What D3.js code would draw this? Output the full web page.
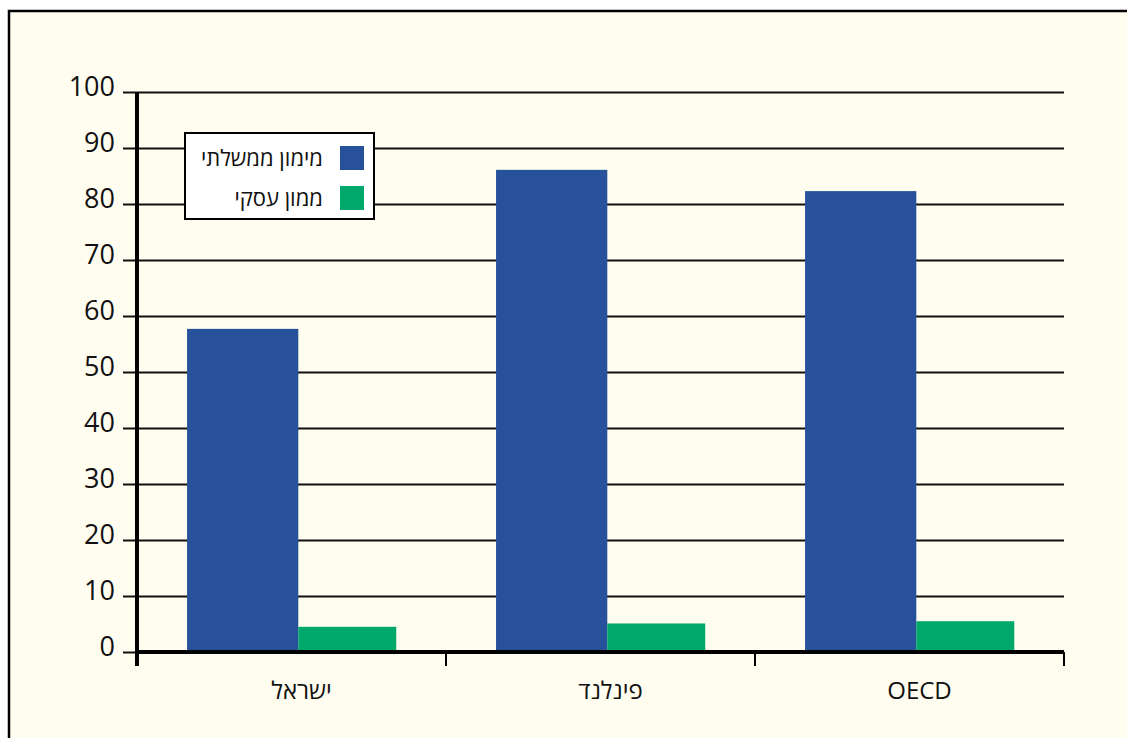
<!DOCTYPE html>
<html lang="he">
<head>
<meta charset="UTF-8">
<title>מימון ממשלתי ועסקי</title>
<script src="https://d3js.org/d3.v7.min.js"></script>
<style>
  body { margin: 0; background: #ffffff; font-family: 'Open Sans', 'Noto Sans', sans-serif; }
</style>
</head>
<body>
<div id="chart"></div>
<script>
// data
var categories = ["ישראל", "פינלנד", "OECD"];
var seriesNames = ["מימון ממשלתי", "ממון עסקי"];
var governmentValues = [57.7, 86.1, 82.3];
var businessValues = [4.5, 5.1, 5.5];
var yTicks = [0, 10, 20, 30, 40, 50, 60, 70, 80, 90, 100];

var colors = ["#27519b", "#00a86b"];

var width = 1127, height = 738;
var margin = {top: 92, left: 137, right: 63, bottom: 86};

var svg = d3.select("#chart").append("svg")
    .attr("width", width)
    .attr("height", height);

// cream panel with frame
svg.append("rect")
    .attr("x", 9).attr("y", 11)
    .attr("width", width).attr("height", height)
    .attr("fill", "#fffdef")
    .attr("stroke", "#000")
    .attr("stroke-width", 2.5);

var x = d3.scaleBand()
    .domain(categories)
    .range([margin.left, width - margin.right]);

var y = d3.scaleLinear()
    .domain([0, 100])
    .range([height - margin.bottom, margin.top]);

// gridlines + y ticks
var grid = svg.append("g")
    .attr("transform", "translate(" + margin.left + ",0)")
    .call(d3.axisLeft(y).tickValues(yTicks)
        .tickSize(-(width - margin.right - margin.left))
        .tickPadding(22));
grid.select(".domain").remove();
grid.selectAll(".tick line")
    .attr("x1", -14)
    .attr("stroke", "#111")
    .attr("stroke-width", 1.8);
grid.selectAll(".tick text")
    .attr("font-size", 27)
    .attr("font-family", "'Open Sans', 'Noto Sans', sans-serif")
    .attr("fill", "#111")
    .attr("dy", "0.14em");

// bars
var data = categories.map(function(c, i) {
    return {cat: c, vals: [governmentValues[i], businessValues[i]]};
});

var barW = [x.bandwidth() * 0.36, x.bandwidth() * 0.317];
var barOff = [x.bandwidth() * 0.162, x.bandwidth() * 0.522];

var groups = svg.selectAll(".grp")
    .data(data)
    .join("g")
    .attr("class", "grp");

groups.selectAll("rect")
    .data(function(d) { return d.vals; })
    .join("rect")
    .attr("x", function(v, j) { return x(d3.select(this.parentNode).datum().cat) + barOff[j]; })
    .attr("width", function(v, j) { return barW[j]; })
    .attr("y", function(v) { return y(v); })
    .attr("height", function(v) { return y(0) - y(v); })
    .attr("fill", function(v, j) { return colors[j]; });

// x axis
var xAxis = svg.append("g")
    .attr("transform", "translate(0," + y(0) + ")");
xAxis.append("line")
    .attr("x1", margin.left).attr("x2", width - margin.right)
    .attr("y1", 0).attr("y2", 0)
    .attr("stroke", "#000").attr("stroke-width", 4);
var tickXs = categories.map(function(c) { return x(c); }).concat([x.range()[1]]);
xAxis.selectAll(".xt")
    .data(tickXs)
    .join("line")
    .attr("x1", function(d) { return d; }).attr("x2", function(d) { return d; })
    .attr("y1", 0).attr("y2", 14)
    .attr("stroke", "#000").attr("stroke-width", 2);
xAxis.selectAll(".xl")
    .data(categories)
    .join("text")
    .attr("x", function(d) { return x(d) + x.bandwidth() / 2 + 10; })
    .attr("y", 47)
    .attr("text-anchor", "middle")
    .attr("font-size", 24)
    .attr("fill", "#111")
    .text(function(d) { return d; });

// y axis line
svg.append("line")
    .attr("x1", margin.left).attr("x2", margin.left)
    .attr("y1", y(100)).attr("y2", y(0) + 14)
    .attr("stroke", "#000").attr("stroke-width", 4);

// legend
var legend = svg.append("g").attr("transform", "translate(185,133)");
legend.append("rect")
    .attr("width", 189).attr("height", 86)
    .attr("fill", "#fff").attr("stroke", "#000").attr("stroke-width", 2);
seriesNames.forEach(function(name, i) {
    legend.append("rect")
        .attr("x", 155).attr("y", 13 + i * 40)
        .attr("width", 24).attr("height", 24)
        .attr("fill", colors[i]);
    legend.append("text")
        .attr("x", 138).attr("y", 33 + i * 40)
        .attr("text-anchor", "end")
        .attr("font-size", 22)
        .attr("fill", "#111")
        .text(name);
});
</script>
</body>
</html>
